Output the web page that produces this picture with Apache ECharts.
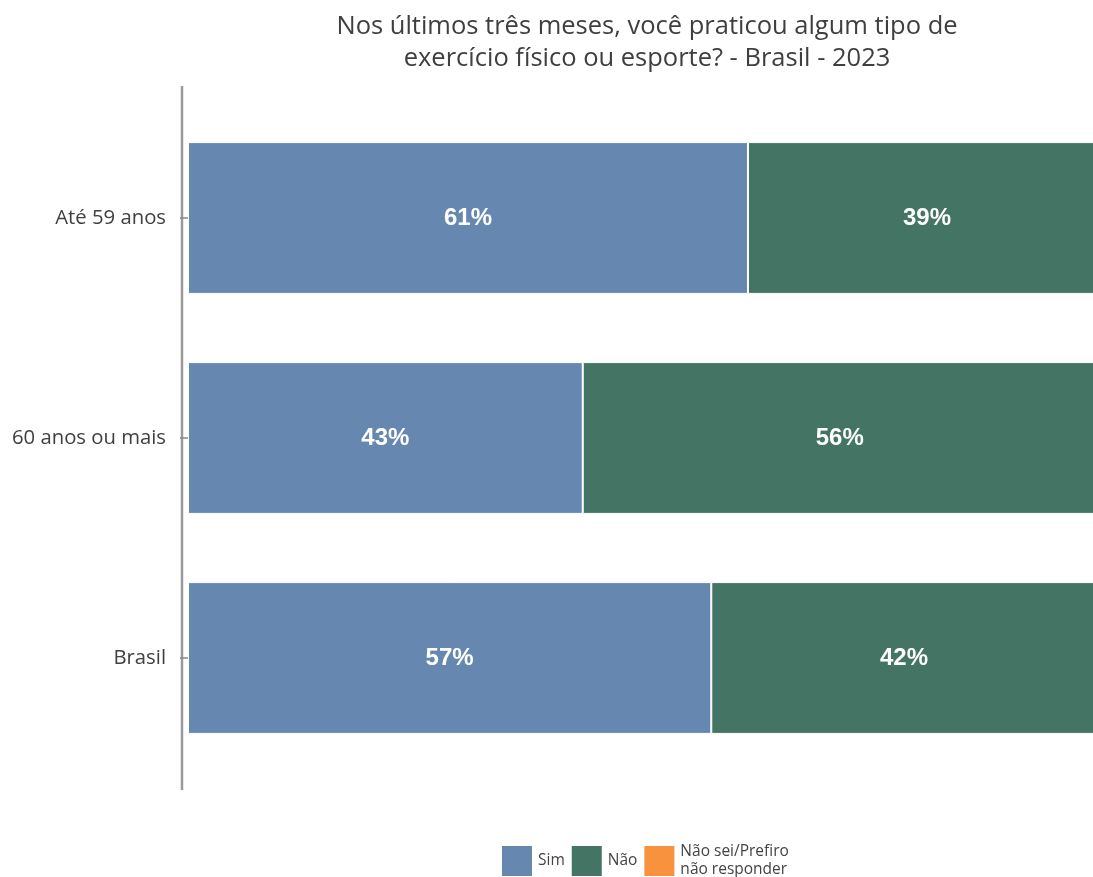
<!DOCTYPE html>
<html>
<head>
<meta charset="utf-8">
<script src="https://cdn.jsdelivr.net/npm/echarts@6/dist/echarts.min.js"></script>
<style>html,body{margin:0;padding:0;background:#fff}#c{width:1093px;height:877px}</style>
</head>
<body>
<div id="c"></div>
<script>
const categories = ['Até 59 anos', '60 anos ou mais', 'Brasil'];
const simValues = [61, 43, 57];
const naoValues = [39, 56, 42];
const naoSeiValues = [0, 1, 1];
const seriesNames = ['Sim', 'Não', 'Não sei/Prefiro\nnão responder'];
const titleText = 'Nos últimos três meses, você praticou algum tipo de\nexercício físico ou esporte? - Brasil - 2023';

const colors = ['#6688B0', '#447463', '#F8923F'];
const chart = echarts.init(document.getElementById('c'));
const lbl = {
  show: true, position: 'inside', color: '#fff', fontWeight: 'bold',
  fontSize: 24, fontFamily: 'Liberation Sans, Arial, sans-serif',
  formatter: p => p.value >= 3 ? p.value + '%' : ''
};
function mk(name, data, color) {
  return {
    name, type: 'bar', stack: 'a', data, barWidth: '69%',
    itemStyle: { color, borderColor: '#fff', borderWidth: 1 },
    label: lbl, emphasis: { disabled: true }
  };
}
chart.setOption({
  animation: false,
  title: {
    text: titleText, left: 642, top: 6, textAlign: 'center',
    textStyle: { fontFamily: 'Open Sans', fontWeight: 'normal', fontSize: 25.5, color: '#3f3f3f', lineHeight: 32 }
  },
  legend: {
    top: 843, left: 500, padding: 0, itemWidth: 32, itemHeight: 32, itemGap: 5,
    textStyle: { fontFamily: 'Open Sans', fontSize: 15.5, color: '#444', lineHeight: 18 },
    icon: 'rect',
    data: seriesNames
  },
  grid: { left: 188, top: 108, height: 660, width: 918, outerBoundsMode: 'none', containLabel: false },
  xAxis: { type: 'value', min: 0, max: 100, show: false },
  yAxis: {
    type: 'category', data: categories, inverse: true, offset: 6,
    axisLine: { show: false },
    axisTick: { show: true, alignWithLabel: true, length: 8, lineStyle: { color: '#888', width: 1.5 } },
    axisLabel: { fontFamily: 'Open Sans', fontSize: 20.3, color: '#404040', margin: 16 }
  },
  graphic: [{
    type: 'line', shape: { x1: 182, y1: 86, x2: 182, y2: 790 },
    style: { stroke: '#9a9a9a', lineWidth: 2.5 }
  }],
  series: [
    mk(seriesNames[0], simValues, colors[0]),
    mk(seriesNames[1], naoValues, colors[1]),
    mk(seriesNames[2], naoSeiValues, colors[2])
  ]
});
</script>
</body>
</html>
